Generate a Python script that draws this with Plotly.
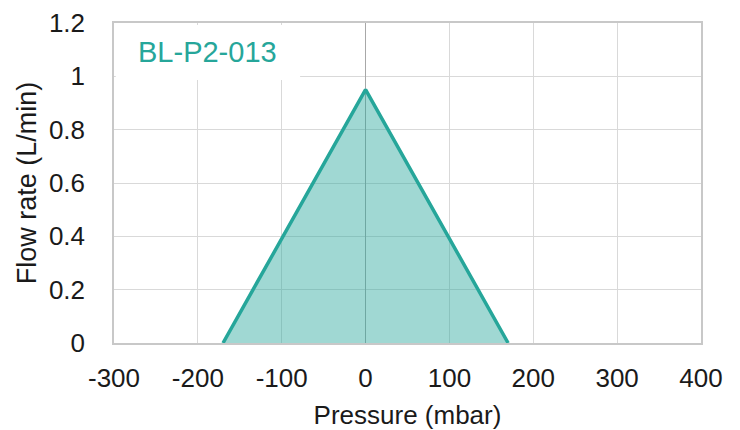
import plotly.graph_objects as go

pressure = [-170, 0, 170]
flow = [0, 0.95, 0]
x_ticks = [-300, -200, -100, 0, 100, 200, 300, 400]
x_tick_labels = ["-300", "-200", "-100", "0", "100", "200", "300", "400"]
y_ticks = [0, 0.2, 0.4, 0.6, 0.8, 1.0, 1.2]
y_tick_labels = ["0", "0.2", "0.4", "0.6", "0.8", "1", "1.2"]
label = "BL-P2-013"

teal = "rgb(38,166,154)"
fill = "rgba(38,166,154,0.44)"
grid = "#d9d9d9"
font = "Liberation Sans, Arial, sans-serif"

fig = go.Figure()
fig.add_trace(go.Scatter(x=pressure, y=flow, mode="lines", fill="tozeroy",
                         fillcolor=fill, line=dict(color=teal, width=3.5),
                         hoverinfo="skip", showlegend=False))

fig.update_layout(
    width=732, height=422,
    margin=dict(l=106, r=39, t=15, b=87, autoexpand=False),
    paper_bgcolor="white", plot_bgcolor="white",
    font=dict(family=font, size=26, color="#1a1a1a"),
    xaxis=dict(range=[-300, 400], tickvals=x_ticks, ticktext=x_tick_labels, showgrid=True,
               gridcolor=grid, gridwidth=1.2, zeroline=True, zerolinecolor="#a8a8a8",
               zerolinewidth=1.2, automargin=False,
               showline=True, linecolor="#c8c8c8", linewidth=1.5, mirror=True,
               ticks="", ticklabelstandoff=11,
               title=dict(text="Pressure (mbar)", standoff=17, font=dict(size=26))),
    yaxis=dict(range=[0, 1.2], tickvals=y_ticks, ticktext=y_tick_labels, showgrid=True,
               gridcolor=grid, gridwidth=1.2, zeroline=False, automargin=False,
               showline=True, linecolor="#c8c8c8", linewidth=1.5, mirror=True,
               ticks="", ticklabelstandoff=22,
               title=dict(text="Flow rate (L/min)", standoff=4, font=dict(size=27))),
)

fig.add_shape(type="rect", xref="paper", yref="paper", x0=0.003, x1=0.317, y0=0.822, y1=0.994,
              fillcolor="white", line=dict(width=0), layer="above")
fig.add_annotation(xref="paper", yref="paper", x=0.037, y=0.909, xanchor="left", yanchor="middle",
                   text=label, showarrow=False, font=dict(family=font, size=29, color=teal))

fig.write_html("out.html")
